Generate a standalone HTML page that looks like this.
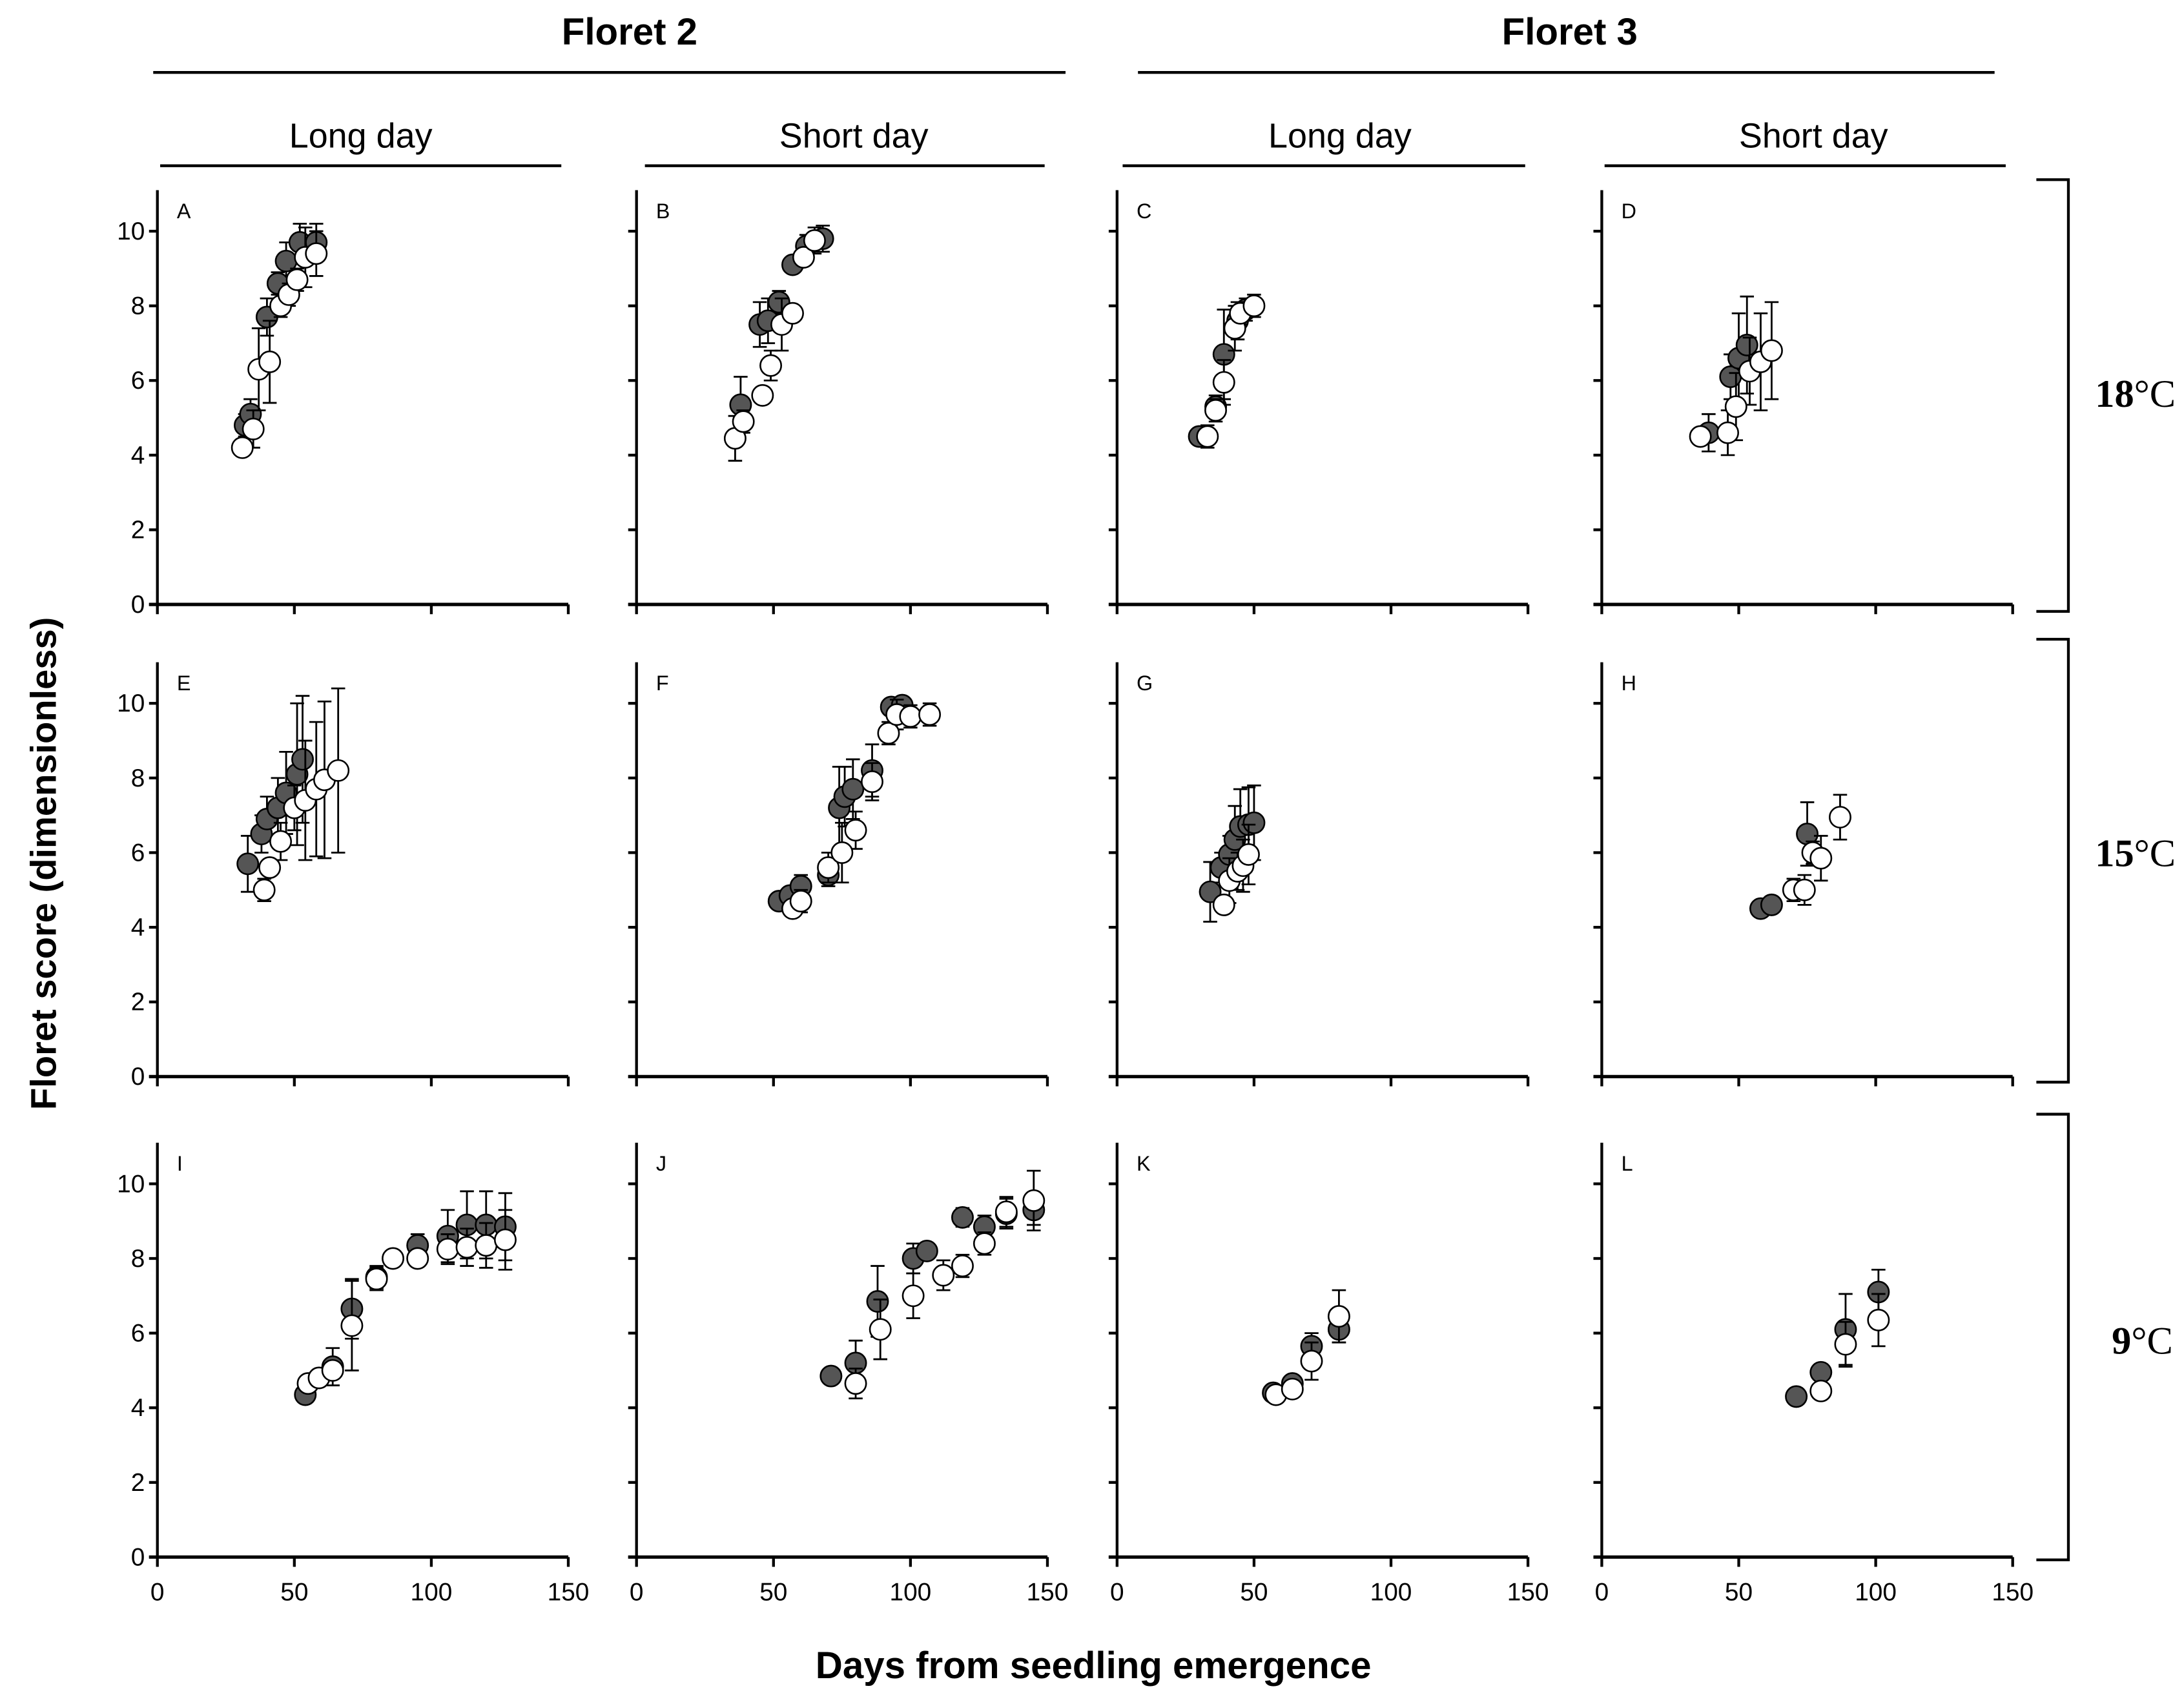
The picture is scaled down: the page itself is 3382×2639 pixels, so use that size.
<!DOCTYPE html>
<html><head><meta charset="utf-8"><style>
html,body{margin:0;padding:0;background:#fff}
svg{display:block}
text{font-family:"Liberation Sans",sans-serif;fill:#000}
</style></head><body>
<svg id="chart" width="3382" height="2639" viewBox="0 0 1568 1223.5" preserveAspectRatio="none" xmlns="http://www.w3.org/2000/svg">
<g id="headers">
<text x="452" y="32" font-size="27" font-weight="bold" text-anchor="middle">Floret 2</text>
<line x1="110" y1="52" x2="765" y2="52" stroke="#000" stroke-width="2"/>
<text x="1127" y="32" font-size="27" font-weight="bold" text-anchor="middle">Floret 3</text>
<line x1="817" y1="52" x2="1432" y2="52" stroke="#000" stroke-width="2"/>
<text x="259" y="106" font-size="25" text-anchor="middle">Long day</text>
<line x1="115" y1="119" x2="403" y2="119" stroke="#000" stroke-width="2"/>
<text x="613" y="106" font-size="25" text-anchor="middle">Short day</text>
<line x1="463" y1="119" x2="750" y2="119" stroke="#000" stroke-width="2"/>
<text x="962" y="106" font-size="25" text-anchor="middle">Long day</text>
<line x1="806" y1="119" x2="1095" y2="119" stroke="#000" stroke-width="2"/>
<text x="1302" y="106" font-size="25" text-anchor="middle">Short day</text>
<line x1="1152" y1="119" x2="1440" y2="119" stroke="#000" stroke-width="2"/>
<path d="M1462 129 H1485 V439 H1462" fill="none" stroke="#000" stroke-width="2"/>
<path d="M1462 459 H1485 V777 H1462" fill="none" stroke="#000" stroke-width="2"/>
<path d="M1462 800 H1485 V1120 H1462" fill="none" stroke="#000" stroke-width="2"/>
<text x="1562" y="292" font-size="28" text-anchor="end" style="font-family:'Liberation Serif',serif"><tspan font-weight="bold">18</tspan>°C</text>
<text x="1562" y="622" font-size="28" text-anchor="end" style="font-family:'Liberation Serif',serif"><tspan font-weight="bold">15</tspan>°C</text>
<text x="1560" y="972" font-size="28" text-anchor="end" style="font-family:'Liberation Serif',serif"><tspan font-weight="bold">9</tspan>°C</text>
<text transform="translate(40,620) rotate(-90)" font-size="26" font-weight="bold" text-anchor="middle">Floret score (dimensionless)</text>
<text x="785" y="1205" font-size="27" font-weight="bold" text-anchor="middle">Days from seedling emergence</text>
</g>
<g id="panels"></g>
</svg>
<script>
const panelLetters = ["A","B","C","D","E","F","G","H","I","J","K","L"];
const xTicks = [0,50,100,150];
const yTicks = [0,2,4,6,8,10];
const filledX = [
 [32,34,40,44,47,52,58],
 [38,45,48,52,57,62,68],
 [30,36,39,44,47],
 [39,47,50,53],
 [33,38,40,44,47,51,53],
 [52,56,60,70,74,76,79,86,93,97],
 [34,38,41,43,45,48,50],
 [58,62,75],
 [54,64,71,80,95,106,113,120,127],
 [71,80,88,101,106,119,127,135,145],
 [57,64,71,81],
 [71,80,89,101]
];
const filledY = [
 [4.8,5.1,7.7,8.6,9.2,9.7,9.7],
 [5.35,7.5,7.6,8.1,9.1,9.6,9.8],
 [4.5,5.3,6.7,7.6,7.9],
 [4.6,6.1,6.6,6.95],
 [5.7,6.5,6.9,7.2,7.6,8.1,8.5],
 [4.7,4.85,5.1,5.4,7.2,7.5,7.7,8.2,9.9,9.95],
 [4.95,5.6,5.95,6.35,6.7,6.75,6.8],
 [4.5,4.6,6.5],
 [4.35,5.1,6.65,7.5,8.35,8.6,8.9,8.9,8.85],
 [4.85,5.2,6.85,8.0,8.2,9.1,8.85,9.2,9.3],
 [4.4,4.65,5.65,6.1],
 [4.3,4.95,6.1,7.1]
];
const filledErr = [
 [0.3,0.4,0.5,0.3,0.5,0.5,0.5],
 [0.75,0.6,0.6,0.3,0.2,0.3,0.35],
 [0.2,0.3,1.2,0.5,0.3],
 [0.5,0.6,1.2,1.3],
 [0.75,0.5,0.6,0.8,1.1,1.9,1.7],
 [0.1,0.2,0.3,0.3,1.1,0.8,0.8,0.7,0.1,0.1],
 [0.8,0.4,0.5,0.9,1.0,1.0,1.0],
 [0.1,0.1,0.85],
 [0.1,0.5,0.8,0.3,0.3,0.7,0.9,0.9,0.9],
 [0.1,0.6,0.95,0.4,0.1,0.25,0.3,0.4,0.4],
 [0.1,0.1,0.35,0.35],
 [0.1,0.1,0.95,0.6]
];
const openX = [
 [31,35,37,41,45,48,51,54,58],
 [36,39,46,49,53,57,61,65],
 [33,36,39,43,45,50],
 [36,46,49,54,58,62],
 [39,41,45,50,54,58,61,66],
 [57,60,70,75,80,86,92,95,100,107],
 [39,41,44,46,48],
 [70,74,77,80,87],
 [55,59,64,71,80,86,95,106,113,120,127],
 [80,89,101,112,119,127,135,145],
 [58,64,71,81],
 [80,89,101]
];
const openY = [
 [4.2,4.7,6.3,6.5,8.0,8.3,8.7,9.3,9.4],
 [4.45,4.9,5.6,6.4,7.5,7.8,9.3,9.75],
 [4.5,5.2,5.95,7.4,7.8,8.0],
 [4.5,4.6,5.3,6.25,6.5,6.8],
 [5.0,5.6,6.3,7.2,7.4,7.7,7.95,8.2],
 [4.5,4.7,5.6,6.0,6.6,7.9,9.2,9.7,9.65,9.7],
 [4.6,5.25,5.5,5.65,5.95],
 [5.0,5.0,6.0,5.85,6.95],
 [4.65,4.8,5.0,6.2,7.45,8.0,8.0,8.25,8.3,8.35,8.5],
 [4.65,6.1,7.0,7.55,7.8,8.4,9.25,9.55],
 [4.35,4.5,5.25,6.45],
 [4.45,5.7,6.35]
];
const openErr = [
 [0.2,0.5,1.1,1.1,0.3,0.3,0.3,0.8,0.6],
 [0.6,0.3,0.2,0.4,0.7,0.2,0.1,0.35],
 [0.3,0.3,0.6,0.6,0.3,0.3],
 [0.1,0.6,0.9,0.9,1.3,1.3],
 [0.3,0.2,0.5,0.6,1.6,1.8,2.1,2.2],
 [0.1,0.3,0.4,0.8,0.5,0.5,0.3,0.4,0.3,0.3],
 [0.1,0.6,0.5,0.7,0.8],
 [0.3,0.4,0.3,0.6,0.6],
 [0.1,0.1,0.1,1.2,0.3,0.1,0.1,0.4,0.5,0.6,0.8],
 [0.4,0.8,0.6,0.4,0.3,0.3,0.4,0.8],
 [0.1,0.1,0.5,0.7],
 [0.1,0.6,0.7]
];

const colX0 = [113,457,802,1150];
const rowY0 = [434,773,1118];
const plotW = 295;
const unitY = 26.8;
const NS = "http://www.w3.org/2000/svg";
const root = document.getElementById("panels");
function mk(tag, attrs, parent){
  const el = document.createElementNS(NS, tag);
  for (const k in attrs) el.setAttribute(k, attrs[k]);
  parent.appendChild(el);
  return el;
}
for (let p = 0; p < 12; p++) {
  const r = Math.floor(p / 4), c = p % 4;
  const x0 = colX0[c], y0 = rowY0[r];
  const sx = v => x0 + v / 150 * plotW;
  const sy = v => y0 - v * unitY;
  const g = mk("g", {}, root);
  
  
  const ya = mk("line", {x1:x0, y1:y0, x2:x0, y2:sy(11.1), stroke:"#000", "stroke-width":2}, g);
  
  
  const xa = mk("line", {x1:x0-6, y1:y0, x2:sx(150), y2:y0, stroke:"#000", "stroke-width":2.4}, g);
  
  
  yTicks.forEach(t => {
    const tk = mk("line", {x1:x0-6, y1:sy(t), x2:x0, y2:sy(t), stroke:"#000", "stroke-width":2}, g);
    
    
    if (c === 0) {
      const tl = mk("text", {x:x0-9, y:sy(t)+6, "font-size":18, "text-anchor":"end"}, g);
      tl.textContent = t;
      
      
    }
  });
  xTicks.forEach(t => {
    const tk = mk("line", {x1:sx(t), y1:y0, x2:sx(t), y2:y0+7, stroke:"#000", "stroke-width":2}, g);
    
    
    if (r === 2) {
      const tl = mk("text", {x:sx(t), y:y0+31, "font-size":18, "text-anchor":"middle"}, g);
      tl.textContent = t;
      
      
    }
  });
  const lt = mk("text", {x:x0+14, y:sy(10.35), "font-size":15}, g);
  lt.textContent = panelLetters[p];
  
  
  const series = [[filledX[p], filledY[p], filledErr[p], "#555", "filled"], [openX[p], openY[p], openErr[p], "#fff", "open"]];
  series.forEach(([xs, ys, es, fill, nm]) => {
    xs.forEach((xv, i) => {
      const cx = sx(xv), e = es[i];
      const eb = mk("path", {d:`M${cx} ${sy(ys[i]+e)} V${sy(ys[i]-e)} M${cx-5} ${sy(ys[i]+e)} H${cx+5} M${cx-5} ${sy(ys[i]-e)} H${cx+5}`, stroke:"#000", "stroke-width":1.3, fill:"none"}, g);
      
      
    });
    xs.forEach((xv, i) => {
      const pt = mk("circle", {cx:sx(xv), cy:sy(ys[i]), r:7.5, fill:fill, stroke:"#000", "stroke-width":1.2}, g);
      
      
    });
  });
}
</script>
</body></html>
